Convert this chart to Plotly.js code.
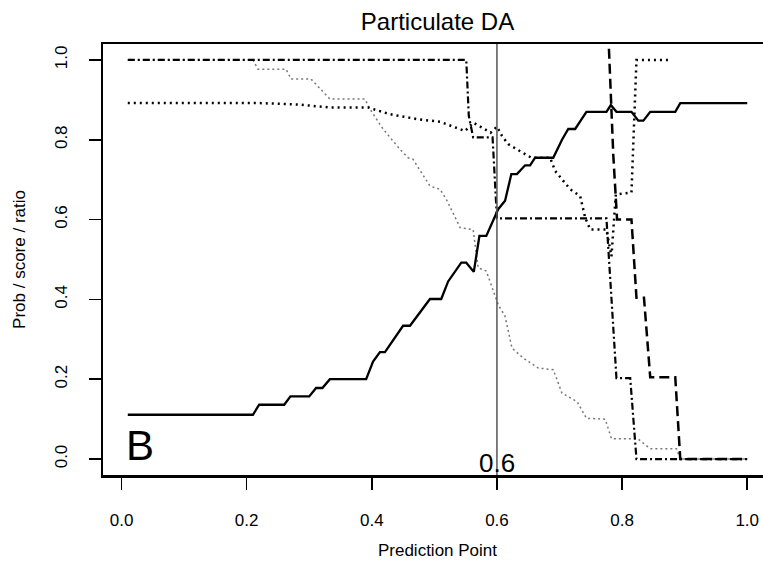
<!DOCTYPE html>
<html>
<head>
<meta charset="utf-8">
<script src="https://cdn.plot.ly/plotly-3.0.1.min.js"></script>
<style>
html,body{margin:0;padding:0;overflow:hidden;background:#fff;}
#chart{width:780px;height:567px;}
</style>
</head>
<body>
<div id="chart"></div>
<script>
// Solid line
const solidX = [0.01,0.21,0.22,0.26,0.27,0.30,0.311,0.321,0.333,0.391,0.402,0.413,0.421,0.450,0.461,0.493,0.511,0.522,0.543,0.551,0.563,0.572,0.583,0.594,0.602,0.613,0.623,0.632,0.645,0.653,0.661,0.690,0.704,0.714,0.725,0.743,0.775,0.782,0.791,0.815,0.826,0.834,0.845,0.885,0.893,1.0];
const solidY = [0.111,0.111,0.136,0.136,0.157,0.157,0.178,0.178,0.200,0.200,0.244,0.268,0.268,0.334,0.334,0.401,0.401,0.445,0.492,0.492,0.469,0.559,0.559,0.600,0.626,0.647,0.714,0.714,0.736,0.736,0.755,0.755,0.800,0.827,0.827,0.870,0.870,0.887,0.870,0.870,0.848,0.848,0.870,0.870,0.892,0.892];

// Dash-dot line
const dashDotX = [0.01,0.551,0.555,0.562,0.593,0.600,0.775,0.781,0.791,0.813,0.823,1.0];
const dashDotY = [1.0,1.0,0.86,0.806,0.806,0.603,0.603,0.45,0.203,0.203,0.0,0.0];

// Black dotted line
const dotX = [0.01,0.221,0.285,0.333,0.394,0.429,0.472,0.509,0.549,0.562,0.590,0.600,0.608,0.618,0.645,0.655,0.685,0.693,0.717,0.733,0.741,0.749,0.775,0.783,0.790,0.815,0.823,0.879];
const dotY = [0.892,0.892,0.888,0.881,0.881,0.864,0.852,0.845,0.822,0.843,0.818,0.833,0.810,0.789,0.764,0.755,0.755,0.722,0.676,0.659,0.605,0.575,0.575,0.508,0.663,0.668,1.0,1.0];

// Grey dotted line
const greyX = [0.01,0.210,0.218,0.263,0.271,0.303,0.333,0.389,0.397,0.418,0.445,0.458,0.466,0.493,0.509,0.519,0.535,0.541,0.562,0.570,0.583,0.602,0.613,0.624,0.642,0.666,0.690,0.704,0.728,0.743,0.773,0.783,0.825,0.845,0.887,0.893,1.0];
const greyY = [1.0,1.0,0.977,0.977,0.952,0.952,0.902,0.902,0.877,0.827,0.776,0.755,0.751,0.684,0.676,0.651,0.600,0.580,0.575,0.479,0.471,0.387,0.358,0.278,0.253,0.228,0.224,0.165,0.144,0.102,0.100,0.051,0.051,0.026,0.026,0.0,0.0];

// Dashed line
const dashX = [0.779,0.786,0.792,0.815,0.823,0.835,0.845,0.885,0.893,1.0];
const dashY = [1.028,0.76,0.60,0.60,0.404,0.404,0.205,0.205,0.0,0.0];

const cutPoint = 0.6;
const cutLabel = "0.6";
const panelLabel = "B";
const xTicks = [0,0.2,0.4,0.6,0.8,1.0];
const yTicks = [0,0.2,0.4,0.6,0.8,1.0];
const tickText = ["0.0","0.2","0.4","0.6","0.8","1.0"];

const FONT = "Liberation Sans, Arial, Helvetica, sans-serif";

const traces = [
  {x: greyX, y: greyY, mode:'lines', line:{color:'#777', width:1.5, dash:'2px,3px'}},
  {x: dotX, y: dotY, mode:'lines', line:{color:'#000', width:2.5, dash:'2px,4px'}},
  {x: dashDotX, y: dashDotY, mode:'lines', line:{color:'#000', width:2.2, dash:'7px,3px,2px,3px'}},
  {x: dashX, y: dashY, mode:'lines', line:{color:'#000', width:2.5, dash:'10px,5px'}},
  {x: solidX, y: solidY, mode:'lines', line:{color:'#000', width:2.3}}
];

const layout = {
  width: 780, height: 567,
  margin: {l:103, r:8, t:44, b:92},
  paper_bgcolor:'#fff', plot_bgcolor:'#fff',
  showlegend:false,
  font:{family:FONT, color:'#000', size:17},
  title:{text:'Particulate DA', font:{family:FONT, size:24, color:'#000'}, x:0.5, xref:'paper', y:1-22/567, yref:'container', yanchor:'middle'},
  xaxis:{
    range:[-0.0296,1.0396], showgrid:false, zeroline:false,
    showline:true, mirror:true, linecolor:'#000', linewidth:2.5,
    ticks:'outside', ticklen:12, tickwidth:1.5, tickcolor:'#000',
    tickvals:xTicks, ticktext:tickText, tickfont:{size:17},
    ticklabelstandoff:16,
    title:{text:'Prediction Point', font:{size:17}, standoff:15}
  },
  yaxis:{
    range:[-0.04,1.04], showgrid:false, zeroline:false,
    showline:true, mirror:true, linecolor:'#000', linewidth:2.5,
    ticks:'outside', ticklen:12, tickwidth:1.5, tickcolor:'#000',
    tickvals:yTicks, ticktext:tickText, tickfont:{size:17}, tickangle:-90,
    ticklabelstandoff:15,
    title:{text:'Prob / score / ratio', font:{size:17}, standoff:22}
  },
  shapes:[{type:'line', xref:'x', yref:'paper', x0:cutPoint, x1:cutPoint, y0:0, y1:1, line:{color:'#555', width:1.5}}],
  annotations:[
    {x:0.03, y:0.035, xref:'x', yref:'y', text:panelLabel, showarrow:false, font:{size:42, family:FONT}},
    {x:cutPoint, y:-0.01, xref:'x', yref:'y', text:cutLabel, showarrow:false, font:{size:26, family:FONT}}
  ]
};

Plotly.newPlot('chart', traces, layout, {staticPlot:true, displayModeBar:false});
</script>
</body>
</html>
